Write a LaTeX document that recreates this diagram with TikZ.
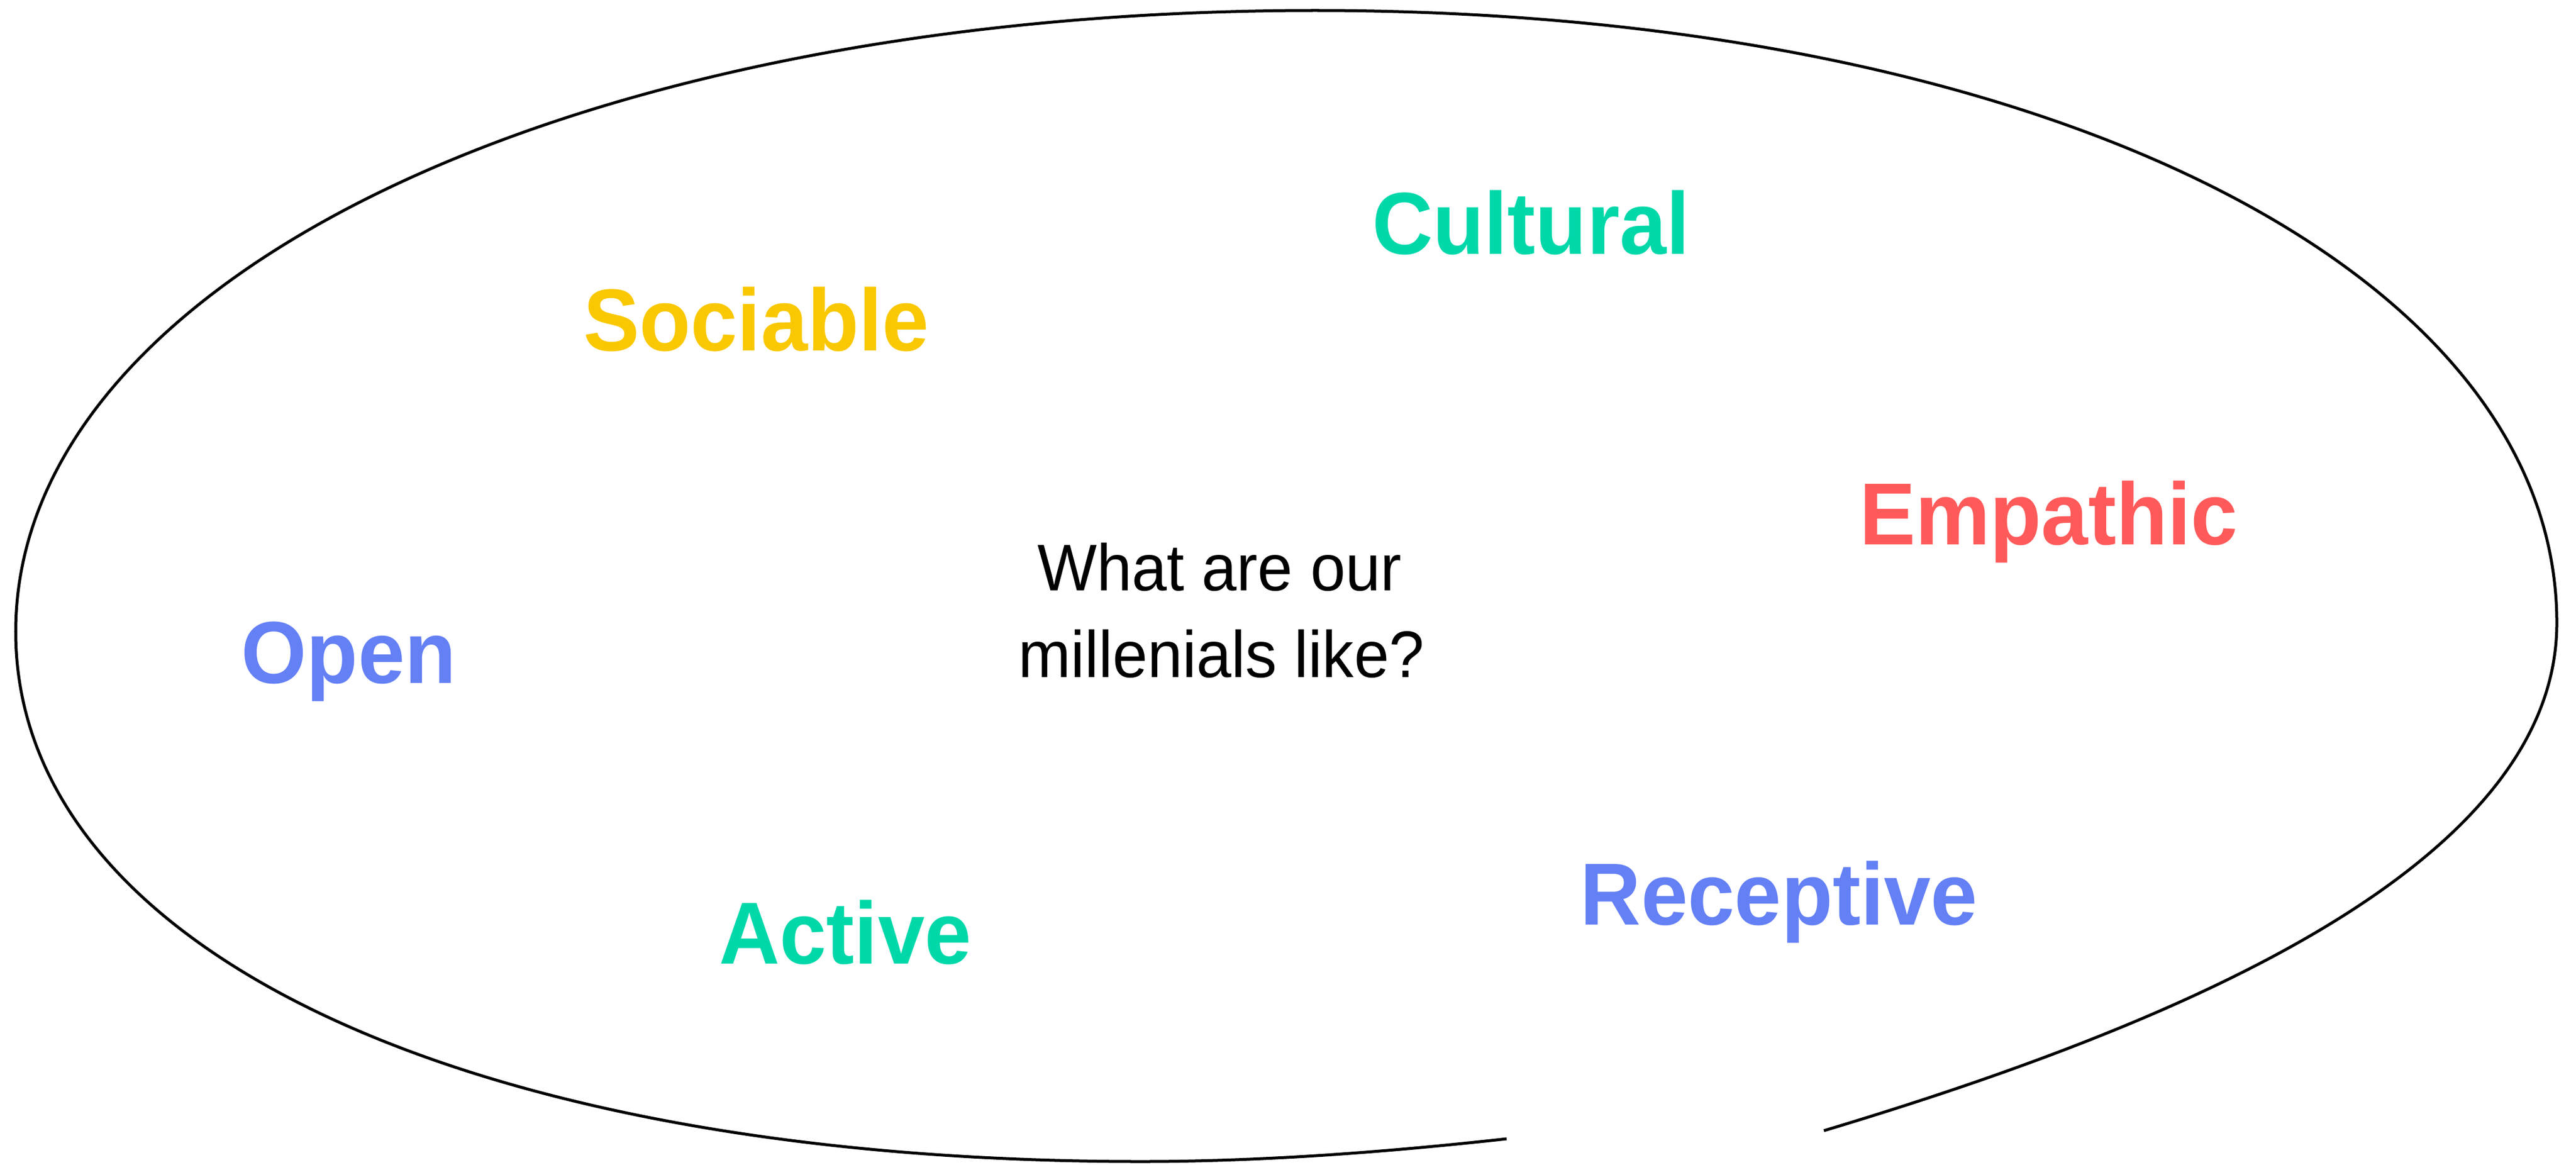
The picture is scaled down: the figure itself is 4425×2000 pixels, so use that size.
\documentclass[tikz,border=0pt]{standalone}
\usepackage{fontspec}
\setmainfont{Liberation Sans}
\definecolor{wgreen}{RGB}{0,216,170}
\definecolor{wyellow}{RGB}{250,200,0}
\definecolor{wred}{RGB}{255,90,90}
\definecolor{wblue}{RGB}{100,128,245}
\begin{document}
\begin{tikzpicture}[x=0.01cm,y=-0.01cm,
  word/.style={font=\bfseries\fontsize{43}{50}\selectfont, anchor=base, inner sep=0pt, xscale=0.955},
  ques/.style={font=\fontsize{32.2}{42}\selectfont, anchor=base, inner sep=0pt, xscale=0.955},
  outline/.style={draw=black, line width=0.05cm}]
\useasboundingbox (0,0) rectangle (4425,2000);
\coordinate (gapR) at (3133,1942);
\coordinate (gapL) at (2588,1956);
\coordinate (R) at (4392,1070);
\coordinate (T) at (2259,18);
\coordinate (L) at (27,1085);
\coordinate (B) at (1960,1995);
\draw[outline] (gapR) .. controls (3733,1762) and (4392,1490) .. (R)
  .. controls (4392,460) and (3496,18) .. (T)
  .. controls (987,18) and (27,477) .. (L)
  .. controls (27,1631) and (800,1995) .. (B)
  .. controls (2169,1995) and (2379,1979) .. (gapL);
\node[word, text=wgreen] (cultural) at (2630,436) {Cultural};
\node[word, text=wyellow] (sociable) at (1299,602) {Sociable};
\node[word, text=wred] (empathic) at (3519,935) {Empathic};
\node[word, text=wblue] (open) at (599,1173) {Open};
\node[word, text=wgreen] (active) at (1452,1655) {Active};
\node[word, text=wblue] (receptive) at (3056,1588) {Receptive};
\node[ques] (q1) at (2095,1014) {What are our};
\node[ques] (q2) at (2098,1163) {millenials like?};
\end{tikzpicture}
\end{document}
